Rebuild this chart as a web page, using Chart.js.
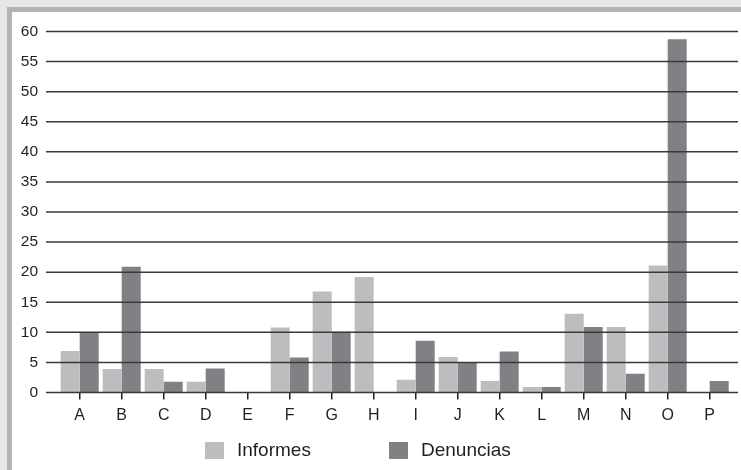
<!DOCTYPE html>
<html>
<head>
<meta charset="utf-8">
<script src="https://cdn.jsdelivr.net/npm/chart.js@4.4.1/dist/chart.umd.min.js"></script>
<style>
    html, body { margin: 0; padding: 0; }
    body {
        width: 741px; height: 470px; overflow: hidden;
        background: #e6e6e6; position: relative;
        font-family: 'Liberation Sans', Arial, sans-serif;
    }
    .marco {
        position: absolute; left: 7px; top: 7px; width: 760px; height: 480px;
        border-left: 5px solid #b3b3b3; border-top: 5px solid #b3b3b3;
        background: #ffffff;
    }
    .grafico { position: absolute; left: 12px; top: 12px; width: 729px; height: 458px; }
    #leyenda {
        position: absolute; left: 205px; top: 439px; display: flex; align-items: center;
        font-size: 19px; color: #231f20;
    }
    #leyenda .item { display: flex; align-items: center; }
    #leyenda .item:first-child { min-width: 184px; }
    #leyenda .caja { width: 19px; height: 17px; margin-right: 13px; }
</style>
</head>
<body>
<div class="marco"></div>
<div class="grafico"><canvas id="graficoInformes"></canvas></div>
<div id="leyenda"></div>

<script>
// Datos
const categorias = ['A', 'B', 'C', 'D', 'E', 'F', 'G', 'H', 'I', 'J', 'K', 'L', 'M', 'N', 'O', 'P'];
const informes = [6.9, 3.9, 3.9, 1.8, 0, 10.8, 16.8, 19.2, 2.1, 5.9, 1.9, 0.9, 13.1, 10.9, 21.1, 0];
const denuncias = [10, 20.9, 1.8, 4, 0, 5.8, 10.1, 0, 8.6, 4.9, 6.8, 0.9, 10.9, 3.1, 58.7, 1.9];
const ticksY = [0, 60, 5]; // mínimo, máximo, paso

const colorTexto = '#231f20';

// Las líneas de la cuadrícula se dibujan encima de las barras y sobresalen del área
const cuadriculaEncima = {
    id: 'cuadriculaEncima',
    afterDatasetsDraw(chart) {
        const { ctx, chartArea, scales } = chart;
        const y = scales.y;
        ctx.save();
        ctx.strokeStyle = '#3a3a3a';
        ctx.lineWidth = 1.5;
        y.ticks.forEach(function(t) {
            const py = y.getPixelForValue(t.value);
            ctx.beginPath();
            ctx.moveTo(chartArea.left - 12.7, py);
            ctx.lineTo(chartArea.right + 7.3, py);
            ctx.stroke();
        });
        ctx.restore();
    }
};

document.addEventListener('DOMContentLoaded', function() {
    const ctx = document.getElementById('graficoInformes').getContext('2d');
    const grafico = new Chart(ctx, {
        type: 'bar',
        data: {
            labels: categorias,
            datasets: [
                {
                    label: 'Informes',
                    data: informes,
                    backgroundColor: '#bdbdc0',
                    categoryPercentage: 0.905,
                    barPercentage: 1
                },
                {
                    label: 'Denuncias',
                    data: denuncias,
                    backgroundColor: '#808184',
                    categoryPercentage: 0.905,
                    barPercentage: 1
                }
            ]
        },
        options: {
            responsive: true,
            maintainAspectRatio: false,
            animation: false,
            layout: { padding: { top: 19.5, right: 10.3, bottom: 47.5, left: 0 } },
            scales: {
                x: {
                    afterFit: function(scale) {
                        scale.height = 30;
                        scale.paddingLeft = 0;
                        scale.paddingRight = 0;
                    },
                    border: { display: false },
                    grid: {
                        drawOnChartArea: false,
                        offset: false,
                        tickLength: 7,
                        color: colorTexto,
                        lineWidth: 1.5
                    },
                    ticks: {
                        color: colorTexto,
                        padding: 6,
                        font: { family: 'Liberation Sans', size: 16 }
                    }
                },
                y: {
                    min: ticksY[0],
                    max: ticksY[1],
                    afterFit: function(scale) {
                        scale.width = 46.7;
                        scale.paddingTop = 0;
                        scale.paddingBottom = 0;
                    },
                    border: { display: false },
                    grid: { display: false, drawTicks: false },
                    ticks: {
                        stepSize: ticksY[2],
                        color: colorTexto,
                        padding: 20.7,
                        font: { family: 'Liberation Sans', size: 15.5 }
                    }
                }
            },
            plugins: {
                legend: { display: false },
                tooltip: { enabled: false }
            }
        },
        plugins: [cuadriculaEncima]
    });

    // Leyenda en HTML construida desde los datasets
    const leyenda = document.getElementById('leyenda');
    grafico.data.datasets.forEach(function(ds) {
        const item = document.createElement('div');
        item.className = 'item';
        const caja = document.createElement('span');
        caja.className = 'caja';
        caja.style.background = ds.backgroundColor;
        const texto = document.createElement('span');
        texto.textContent = ds.label;
        item.appendChild(caja);
        item.appendChild(texto);
        leyenda.appendChild(item);
    });
});
</script>
</body>
</html>
